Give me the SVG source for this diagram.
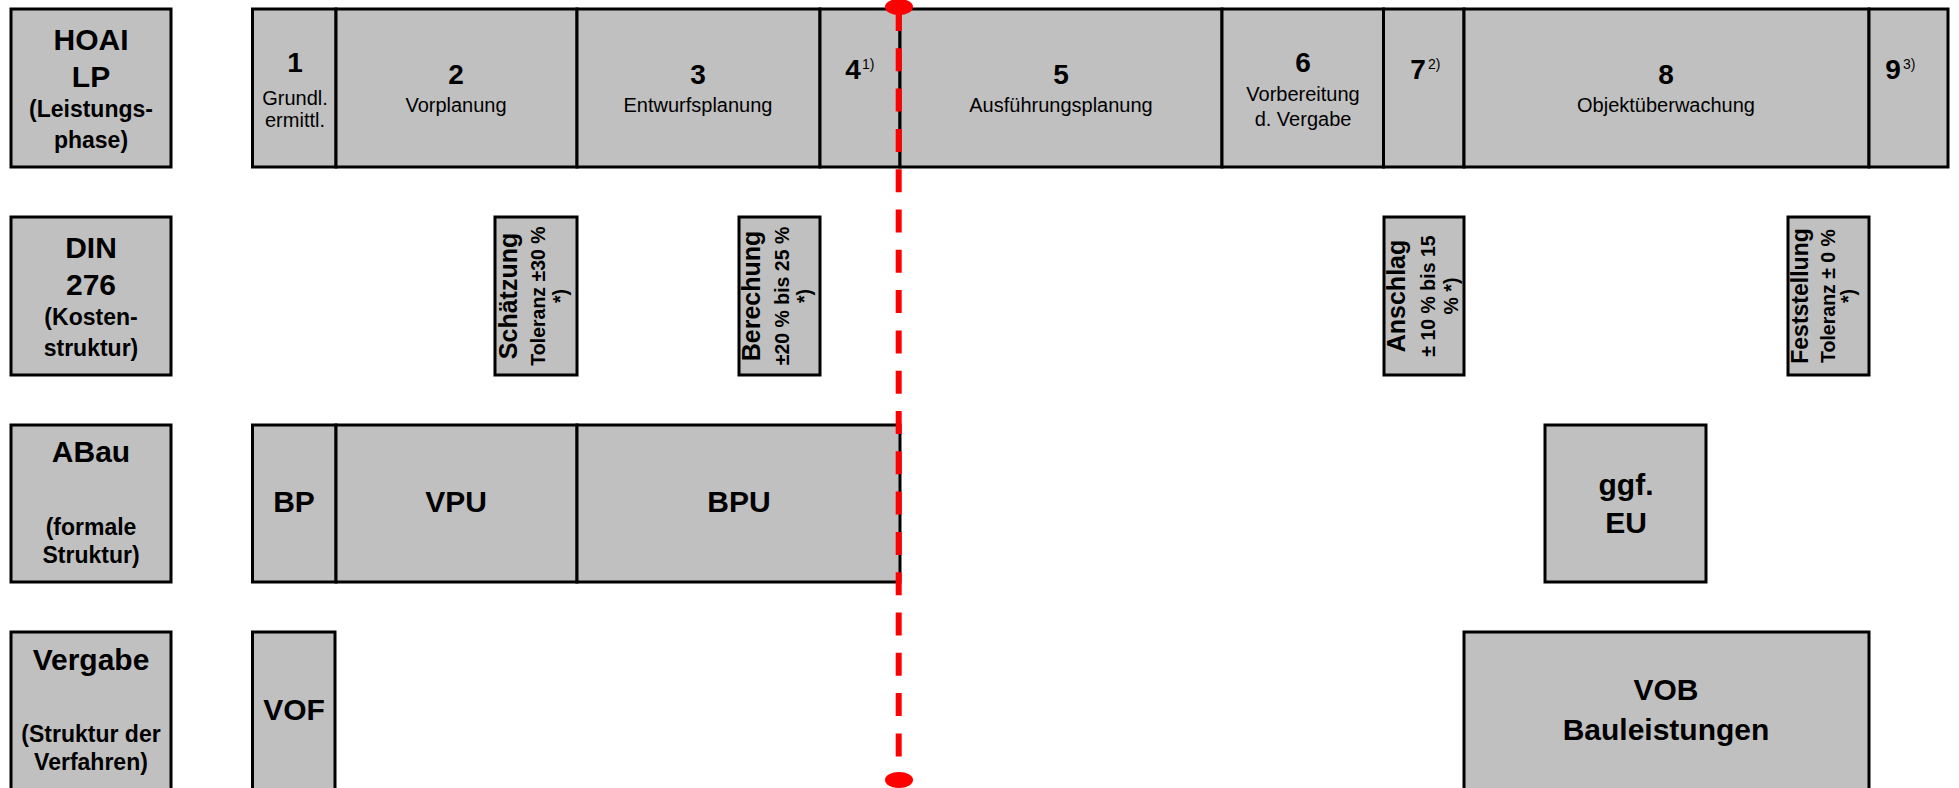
<svg xmlns="http://www.w3.org/2000/svg" width="1959" height="788" viewBox="0 0 1959 788">
<style>
.box{fill:#c0c0c0;stroke:#000;stroke-width:3}
text{font-family:"Liberation Sans",Arial,sans-serif;fill:#000;text-anchor:middle}
.t{font-size:30px;font-weight:bold}
.s{font-size:23px;font-weight:bold}
.n{font-size:28px;font-weight:bold}
.r{font-size:20px}
.sup{font-size:14px;text-anchor:start}
.v1{font-size:25px;font-weight:bold}
.v2{font-size:19.5px;font-weight:bold}
.ms{stroke:#ff0000;stroke-width:6;stroke-dasharray:23 17.3;fill:none}
.dot{fill:#ff0000}
</style>
<rect width="1959" height="788" fill="#fff"/>

<!-- Row 1: HOAI -->
<g id="hoai-label"><rect class="box" x="11" y="9" width="160" height="158"/>
<text class="t" x="91" y="50">HOAI</text><text class="t" x="91" y="87">LP</text>
<text class="s" x="91" y="117">(Leistungs-</text><text class="s" x="91" y="148">phase)</text></g>
<g id="lp1"><rect class="box" x="252.5" y="9" width="83.5" height="158"/>
<text class="n" x="295" y="72">1</text><text class="r" x="295" y="105">Grundl.</text><text class="r" x="295" y="127">ermittl.</text></g>
<g id="lp2"><rect class="box" x="336" y="9" width="241" height="158"/>
<text class="n" x="456" y="84">2</text><text class="r" x="456" y="112">Vorplanung</text></g>
<g id="lp3"><rect class="box" x="577" y="9" width="243" height="158"/>
<text class="n" x="698" y="84">3</text><text class="r" x="698" y="112">Entwurfsplanung</text></g>
<g id="lp4"><rect class="box" x="820" y="9" width="80" height="158"/>
<text class="n" x="853" y="79">4</text><text class="sup" x="862" y="69">1)</text></g>
<g id="lp5"><rect class="box" x="900" y="9" width="322" height="158"/>
<text class="n" x="1061" y="84">5</text><text class="r" x="1061" y="112">Ausführungsplanung</text></g>
<g id="lp6"><rect class="box" x="1222" y="9" width="161.5" height="158"/>
<text class="n" x="1303" y="72">6</text><text class="r" x="1303" y="101">Vorbereitung</text><text class="r" x="1303" y="126">d. Vergabe</text></g>
<g id="lp7"><rect class="box" x="1383.5" y="9" width="80.5" height="158"/>
<text class="n" x="1418" y="79">7</text><text class="sup" x="1428" y="69">2)</text></g>
<g id="lp8"><rect class="box" x="1464" y="9" width="405" height="158"/>
<text class="n" x="1666" y="84">8</text><text class="r" x="1666" y="112">Objektüberwachung</text></g>
<g id="lp9"><rect class="box" x="1869" y="9" width="79" height="158"/>
<text class="n" x="1893" y="79">9</text><text class="sup" x="1903" y="69">3)</text></g>

<!-- Row 2: DIN 276 -->
<g id="din-label"><rect class="box" x="11" y="217" width="160" height="158"/>
<text class="t" x="91" y="258">DIN</text><text class="t" x="91" y="295">276</text>
<text class="s" x="91" y="325">(Kosten-</text><text class="s" x="91" y="356">struktur)</text></g>
<g id="schaetzung"><rect class="box" x="495" y="217" width="82" height="158"/>
<text class="v1" transform="translate(517 296) rotate(-90)">Schätzung</text>
<text class="v2" transform="translate(545 296) rotate(-90)">Toleranz ±30 %</text>
<text class="v2" transform="translate(567 296) rotate(-90)">*)</text></g>
<g id="berechnung"><rect class="box" x="739" y="217" width="81" height="158"/>
<text class="v1" transform="translate(760 296) rotate(-90)">Berechung</text>
<text class="v2" transform="translate(789 296) rotate(-90)">±20 % bis 25 %</text>
<text class="v2" transform="translate(811 296) rotate(-90)">*)</text></g>
<g id="anschlag"><rect class="box" x="1384" y="217" width="80" height="158"/>
<text class="v1" transform="translate(1405 296) rotate(-90)">Anschlag</text>
<text class="v2" transform="translate(1435 296) rotate(-90)">± 10 % bis 15</text>
<text class="v2" transform="translate(1458 296) rotate(-90)">% *)</text></g>
<g id="feststellung"><rect class="box" x="1788" y="217" width="81" height="158"/>
<text class="v1" transform="translate(1808 296) rotate(-90)" style="font-size:23px">Feststellung</text>
<text class="v2" transform="translate(1835 296) rotate(-90)">Toleranz ± 0 %</text>
<text class="v2" transform="translate(1855 296) rotate(-90)">*)</text></g>

<!-- Row 3: ABau -->
<g id="abau-label"><rect class="box" x="11" y="425" width="160" height="157"/>
<text class="t" x="91" y="462">ABau</text>
<text class="s" x="91" y="535">(formale</text><text class="s" x="91" y="563">Struktur)</text></g>
<g id="bp"><rect class="box" x="252.5" y="425" width="83.5" height="157"/><text class="t" x="294" y="512">BP</text></g>
<g id="vpu"><rect class="box" x="336" y="425" width="241" height="157"/><text class="t" x="456" y="512">VPU</text></g>
<g id="bpu"><rect class="box" x="577" y="425" width="323" height="157"/><text class="t" x="739" y="512">BPU</text></g>
<g id="eu"><rect class="box" x="1545" y="425" width="161" height="157"/>
<text class="t" x="1626" y="495">ggf.</text><text class="t" x="1626" y="533">EU</text></g>

<!-- Row 4: Vergabe -->
<g id="vergabe-label"><rect class="box" x="11" y="632" width="160" height="200"/>
<text class="t" x="91" y="670">Vergabe</text>
<text class="s" x="91" y="742">(Struktur der</text><text class="s" x="91" y="770">Verfahren)</text></g>
<g id="vof"><rect class="box" x="252.5" y="632" width="82.5" height="200"/><text class="t" x="294" y="720">VOF</text></g>
<g id="vob"><rect class="box" x="1464" y="632" width="405" height="200"/>
<text class="t" x="1666" y="700">VOB</text><text class="t" x="1666" y="740">Bauleistungen</text></g>

<!-- milestone line -->
<g id="connectors">
<line class="ms" x1="898.7" y1="8" x2="898.7" y2="778"/>
<ellipse class="dot" cx="899" cy="7" rx="14" ry="8"/>
<ellipse class="dot" cx="899" cy="780" rx="14" ry="8"/>
</g>
</svg>
